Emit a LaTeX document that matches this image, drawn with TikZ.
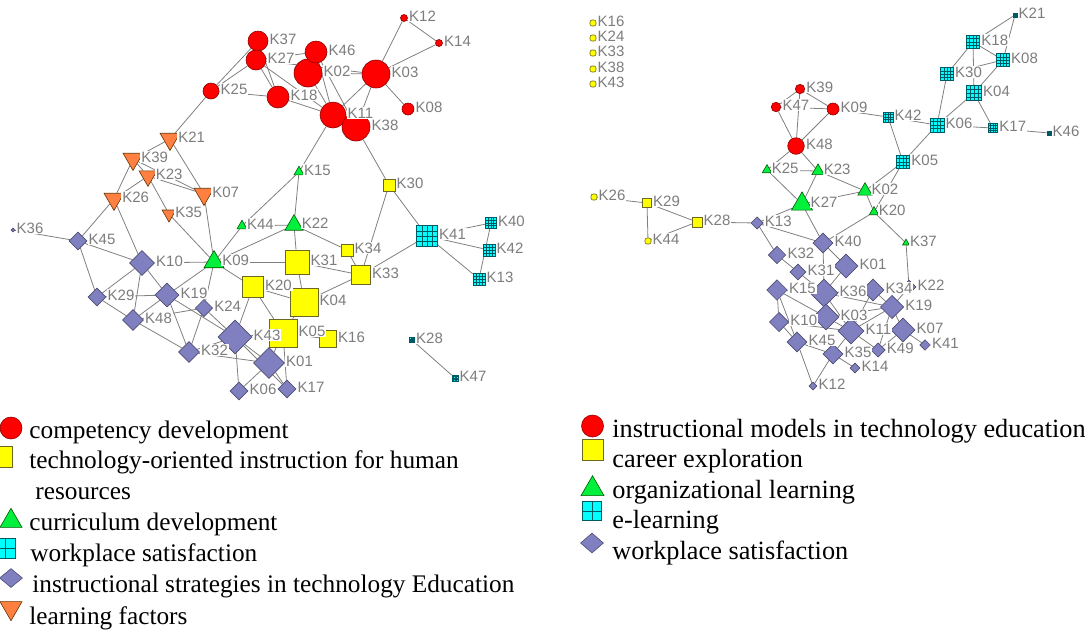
\documentclass[tikz,border=0pt]{standalone}
\usepackage{fontspec}
\setmainfont{Liberation Serif}
\setsansfont{Liberation Sans}
\usepackage{tikz}
\usetikzlibrary{shapes.geometric,backgrounds,calc}

\definecolor{kred}{RGB}{255,0,0}
\definecolor{kyellow}{RGB}{255,255,0}
\definecolor{kgreen}{RGB}{0,240,60}
\definecolor{kcyan}{RGB}{0,255,255}
\definecolor{kteal}{RGB}{0,90,100}
\definecolor{kpurple}{RGB}{128,128,192}
\definecolor{korange}{RGB}{255,128,64}
\definecolor{kgray}{RGB}{125,125,125}

\tikzset{
	edge/.style = {draw=black!50, line width=0.4pt},
	lbl/.style = {font=\sffamily\fontsize{7.5}{8}\selectfont, text=kgray, fill=white, inner sep=0.5pt, yshift=1pt, anchor=west},
	legtxt/.style = {font=\fontsize{12.65}{14}\selectfont, inner sep=0pt, anchor=base west},
	legtxtr/.style = {legtxt, font=\fontsize{13.15}{15}\selectfont},
	gridcuts/.store in = \gridcuts,
	gridcuts = {0.25,0.5,0.75},
	redball/.style = {circle, fill=kred, draw=red!55!black, line width=0.3pt, inner sep=0pt, minimum size=#1},
	yelbox/.style = {rectangle, fill=kyellow, draw=olive!70!black, line width=0.3pt, inner sep=0pt, minimum size=#1},
	greentri/.style = {regular polygon, regular polygon sides=3, fill=kgreen, draw=green!35!black, line width=0.3pt, inner sep=0pt, minimum size=#1},
	orangetri/.style = {greentri=#1, fill=korange, draw=orange!40!black, shape border rotate=180},
	bluediam/.style = {diamond, fill=kpurple, draw=kpurple!60!black, line width=0.3pt, inner sep=0pt, minimum size=#1},
	cyanbox/.style = {rectangle, fill=kcyan, draw=kteal, line width=0.3pt, inner sep=0pt, minimum size=#1,
			path picture={
				\foreach \t in \gridcuts
					{   \draw[kteal, line width=0.25pt] ($(path picture bounding box.south west)!\t!(path picture bounding box.south east)$) -- ($(path picture bounding box.north west)!\t!(path picture bounding box.north east)$);
						\draw[kteal, line width=0.25pt] ($(path picture bounding box.south west)!\t!(path picture bounding box.north west)$) -- ($(path picture bounding box.south east)!\t!(path picture bounding box.north east)$);
					}
			}},
}

\begin{document}
\begin{tikzpicture}[x=0.5pt, y=-0.5pt]
	\useasboundingbox (0,0) rectangle (1085,634);

	% Left network
	% competency development
	\foreach \n/\p/\s in {K37/{258,41}/10pt, K27/{256,60}/10pt, K02/{308,73}/14pt, K46/{316,52}/11pt, K25/{211,91}/8pt, K18/{278,97}/11pt, K03/{376,74}/14pt, K12/{404,18}/3.5pt, K14/{439,43}/3.5pt, K08/{408,109}/6pt, K11/{333,115}/13pt, K38/{356,127}/14pt}
		\node[redball=\s] (l\n) at (\p) {};

	% learning factors
	\foreach \n/\p/\s in {K21/{170,139}/11.5pt, K39/{133,159}/11.5pt, K23/{148,176}/10.4pt, K07/{204,194}/11.5pt, K26/{114,199}/11.5pt, K35/{169,214}/8pt}
		\node[orangetri=\s] (l\n) at (\p) {};

	% curriculum development
	\foreach \n/\p/\s in {K15/{299,172}/5.8pt, K44/{242,226}/5.8pt, K22/{294,225}/10.4pt, K09/{214,262}/11.5pt}
		\node[greentri=\s] (l\n) at (\p) {};

	% technology-oriented instruction
	\foreach \n/\p/\s in {K30/{389,185}/6pt, K34/{347,250}/6pt, K31/{297,262}/12pt, K33/{361,275}/9.5pt, K20/{253,287}/10.3pt, K04/{304,302}/14pt, K05/{283,333}/14pt, K16/{328,339}/8.5pt}
		\node[yelbox=\s] (l\n) at (\p) {};

	% workplace satisfaction
	\foreach \n/\p/\s in {K41/{427,236}/10.5pt, K40/{491,223}/5.3pt, K42/{489,250}/6pt, K13/{479,279}/6pt, K28/{412,340}/2.5pt, K47/{455,378}/3pt}
		\node[cyanbox=\s] (l\n) at (\p) {};

	% instructional strategies
	\foreach \n/\p/\s in {K36/{13,230}/2pt, K45/{78,241}/9pt, K10/{142,263}/12.5pt, K29/{97,297}/9pt, K19/{167,295}/12pt, K24/{204,308}/8.7pt, K48/{133,320}/10.5pt, K32/{189,352}/10.5pt, K43/{235,337}/17pt, K01/{269,363}/15.5pt, K06/{239,391}/9pt, K17/{287,389}/9pt}
		\node[bluediam=\s] (l\n) at (\p) {};

	% keyword labels sit on top of the markers
	\foreach \n in {K37,K27,K02,K46,K25,K18,K03,K12,K14,K08,K11,K38,K21,K39,K23,K07,K26,K35,K15,K44,K22,K09,K30,K34,K31,K33,K20,K04,K05,K16,K41,K40,K42,K13,K28,K47,K36,K45,K10,K29,K19,K24,K48,K32,K43,K01,K06,K17}
		\node[lbl] (l\n lab) at (l\n.east) {\n};

	\begin{scope}[on background layer]
		\foreach \a/\b in {K37/K25, K27/K25, K25/K18, K25/K21, K37/K18, K27/K18, K27/K46, K27/K03, K27/K11, K46/K02, K46/K11, K46/K38, K02/K03, K02/K11, K18/K11, K03/K11, K03/K38, K03/K12, K03/K14, K03/K08, K12/K14, K11/K15, K38/K30, K11/K38,
				K21/K39, K21/K07, K39/K23, K39/K26, K39/K07, K23/K07, K23/K26, K23/K35, K26/K10, K26/K45, K35/K09, K07/K09,
				K15/K44, K44/K09, K15/K22, K09/K22, K44/K22, K22/K31, K22/K34, K09/K31, K09/K20, K09/K10, K09/K24, K09/K19,
				K31/K33, K31/K04, K34/K33, K30/K33, K33/K41, K30/K41, K33/K04, K41/K40, K41/K42, K41/K13, K40/K13, K28/K47,
				K20/K04, K20/K05, K20/K43, K04/K05, K05/K16, K05/K01, K43/K05, K43/K01, K43/K06, K01/K06, K01/K17, K05/K17, K43/K17,
				K32/K01, K32/K43, K24/K43, K24/K32, K24/K48, K19/K43, K19/K32, K19/K10, K19/K29, K19/K48,
				K10/K45, K10/K29, K10/K48, K45/K29, K45/K36, K29/K48, K48/K32}
			\draw[edge] (l\a) -- (l\b);
	\end{scope}

	% Right network
	% career exploration
	\foreach \n/\p in {K16/{593,23}, K24/{593,38}, K33/{593,53}, K38/{593,69}, K43/{593,84}, K26/{594,197}, K44/{648,241}}
		\node[yelbox=3pt, rounded corners=1pt] (r\n) at (\p) {};
	\foreach \n/\p/\s in {K29/{647,203}/4.5pt, K28/{697,222}/5pt}
		\node[yelbox=\s] (r\n) at (\p) {};

	% instructional models
	\foreach \n/\p/\s in {K39/{800,89}/4.7pt, K47/{776,107}/4.8pt, K09/{833,109}/6pt, K48/{796,146}/8.3pt}
		\node[redball=\s] (r\n) at (\p) {};

	% organizational learning
	\foreach \n/\p/\s in {K25/{767,170}/5.4pt, K23/{818,171}/7.1pt, K27/{802,204}/12.1pt, K02/{865,191}/8.3pt, K20/{874,212}/5.4pt, K37/{906,243}/3.9pt}
		\node[greentri=\s] (r\n) at (\p) {};

	% e-learning
	\foreach \n/\p/\s in {K21/{1015,15}/2pt, K18/{973,42}/6.7pt, K08/{1003,60}/6.5pt, K30/{947,74}/6.5pt, K04/{974,93}/7.5pt, K42/{888,117}/5pt, K06/{937,125}/7pt, K17/{993,128}/4.7pt, K46/{1049,133}/2pt, K05/{903,162}/6.7pt}
		\node[cyanbox=\s] (r\n) at (\p) {};

	% workplace satisfaction
	\foreach \n/\p/\s in {K13/{757,223}/6.2pt, K40/{823,243}/10pt, K32/{777,255}/8.8pt, K31/{798,272}/8pt, K01/{846,266}/12pt, K15/{777,290}/10.3pt, K36/{824,293}/14pt, K34/{873,290}/11pt, K22/{909,287}/7pt, K19/{892,307}/11.7pt, K03/{826,317}/13pt, K10/{779,322}/9.7pt, K11/{851,331}/13pt, K07/{903,330}/12pt, K45/{797,342}/10pt, K35/{833,354}/10pt, K49/{878,350}/7.2pt, K41/{925,345}/5.3pt, K14/{855,368}/5pt, K12/{813,386}/4pt}
		\node[bluediam=\s] (r\n) at (\p) {};

	\foreach \n in {K16,K24,K33,K38,K43,K26,K44,K29,K28,K39,K47,K09,K48,K25,K23,K27,K02,K20,K37,K21,K18,K08,K30,K04,K42,K06,K17,K46,K05,K13,K40,K32,K31,K01,K15,K36,K34,K22,K19,K03,K10,K11,K07,K45,K35,K49,K41,K14,K12}
		\node[lbl] (r\n lab) at (r\n.east) {\n};

	\begin{scope}[on background layer]
		\foreach \a/\b in {K39/K47, K39/K09, K47/K09, K47/K48, K39/K48, K09/K48, K48/K25, K48/K23, K25/K23, K25/K27, K23/K27, K23/K02, K27/K02, K02/K20, K02/K05, K20/K05,
				K27/K13, K27/K40, K20/K40, K20/K37, K37/K22, K09/K42, K42/K06, K42/K05, K05/K06, K06/K30, K06/K04, K06/K17, K17/K04, K17/K46,
				K30/K18, K30/K08, K18/K08, K18/K21, K08/K21, K18/K04, K04/K08,
				K26/K29, K29/K44, K29/K28, K44/K28, K28/K13, K13/K32, K13/K40, K32/K31, K40/K01, K40/K36,
				K15/K36, K15/K10, K15/K45, K15/K03, K36/K03, K36/K11, K36/K19, K03/K11, K03/K19, K11/K19, K19/K07, K07/K41, K07/K49, K11/K49,
				K10/K45, K10/K03, K45/K35, K35/K14, K35/K12, K45/K12, K10/K11, K01/K36, K34/K19, K22/K19, K11/K35, K31/K36, K34/K11, K19/K49, K36/K34}
			\draw[edge] (r\a) -- (r\b);
	\end{scope}

	% Legend, left
	\node[redball=11pt] (lga) at (11,428) {};
	\node[legtxt] (lgat) at (29,438) {competency development};
	\node[yelbox=10.5pt] (lgb) at (1.5,457) {};
	\node[legtxt] (lgbt) at (29,468) {technology-oriented instruction for human};
	\node[legtxt] (lgbu) at (35,499) {resources};
	\node[greentri=12.7pt] (lgc) at (11,521) {};
	\node[legtxt] (lgct) at (29,530) {curriculum development};
	\node[cyanbox=10pt, gridcuts={0.5}] (lgd) at (5,548) {};
	\node[legtxt] (lgdt) at (30,561) {workplace satisfaction};
	\node[bluediam=11.5pt, minimum height=9.5pt] (lge) at (11,578) {};
	\node[legtxt] (lget) at (32,592) {instructional strategies in technology Education};
	\node[orangetri=12.7pt] (lgf) at (11,608) {};
	\node[legtxt] (lgft) at (29,624) {learning factors};

	% Legend, right
	\node[redball=11pt] (rga) at (592.5,426) {};
	\node[legtxtr] (rgat) at (612,437) {instructional models in technology education};
	\node[yelbox=10.5pt] (rgb) at (592.5,450) {};
	\node[legtxtr] (rgbt) at (612,467) {career exploration};
	\node[greentri=13.3pt] (rgc) at (592.5,489) {};
	\node[legtxtr] (rgct) at (612,498) {organizational learning};
	\node[cyanbox=9.5pt, gridcuts={0.5}] (rgd) at (592,511) {};
	\node[legtxtr] (rgdt) at (612,528) {e-learning};
	\node[bluediam=11.5pt, minimum height=10pt] (rge) at (592,543) {};
	\node[legtxtr] (rget) at (612,559) {workplace satisfaction};
\end{tikzpicture}
\end{document}
